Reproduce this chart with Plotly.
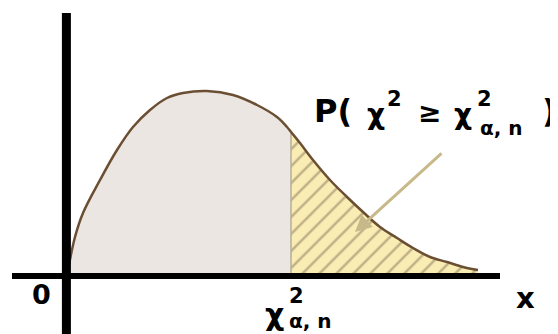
import plotly.graph_objects as go

# density curve (x in chi-square units, y = density)
curve_x = [0.0, 0.1, 0.45, 0.85, 1.7, 2.55, 3.35, 4.2, 5.05, 5.85, 7.05, 8.35, 9.55, 10.55, 11.05, 11.25,
           11.7, 12.35, 13.2, 14.05, 14.85, 15.7, 16.55, 17.35, 18.2, 19.05, 19.85, 20.6]
curve_y = [0.0, 0.004, 0.037, 0.061, 0.094, 0.124, 0.147, 0.164, 0.176, 0.181, 0.183, 0.179, 0.169, 0.157, 0.147, 0.142,
           0.131, 0.114, 0.094, 0.077, 0.062, 0.047, 0.036, 0.026, 0.017, 0.012, 0.007, 0.004]
critical = 11.25

left_x = [x for x in curve_x if x <= critical]
left_y = curve_y[:len(left_x)]
right_x = curve_x[len(left_x) - 1:]
right_y = curve_y[len(left_x) - 1:]

fig = go.Figure()

# left area, plain light fill
fig.add_trace(go.Scatter(x=left_x, y=left_y, mode='lines', line=dict(width=0),
                         fill='tozeroy', fillcolor='#ECE6E3', hoverinfo='skip'))
# right tail, hatched
fig.add_trace(go.Scatter(x=right_x, y=right_y, mode='lines', line=dict(width=0),
                         fill='tozeroy', fillcolor='#FAEDB4',
                         fillpattern=dict(shape='/', bgcolor='#FAEDB4', fgcolor='#7F7056',
                                          size=12, solidity=0.2),
                         hoverinfo='skip'))
# divider at the critical value
fig.add_trace(go.Scatter(x=[critical, critical], y=[0, right_y[0]], mode='lines',
                         line=dict(color='#B8AC98', width=1.5), hoverinfo='skip'))
# the curve itself
fig.add_trace(go.Scatter(x=curve_x[1:], y=curve_y[1:], mode='lines',
                         line=dict(color='#6B4F33', width=2.5, shape='spline'), hoverinfo='skip'))

# axes drawn by hand
fig.add_trace(go.Scatter(x=[-2.7, 21.7], y=[-0.002, -0.002], mode='lines',
                         line=dict(color='black', width=6), hoverinfo='skip'))
fig.add_trace(go.Scatter(x=[0.02, 0.02], y=[0.261, -0.07], mode='lines',
                         line=dict(color='black', width=9), hoverinfo='skip'))

font = 'DejaVu Sans'
sub = 'α,\u00a0n'


def label(x, y, text, size, anchor='center'):
    fig.add_annotation(x=x, y=y, text='<b>' + text + '</b>', showarrow=False, xanchor=anchor,
                       font=dict(family=font, size=size, color='black'))


label(-1.25, -0.020, '0', 27)
label(22.95, -0.024, 'x', 29)
# chi-square critical label under the axis
label(10.4, -0.040, 'χ', 30)
label(11.5, -0.022, '2', 21)
label(11.05, -0.047, sub, 20, 'left')

# probability label, built piece by piece
label(12.3, 0.163, 'P(', 32, 'left')
label(15.5, 0.160, 'χ', 28)
label(16.4, 0.175, '2', 21)
label(18.15, 0.162, '≥', 28)
label(19.85, 0.160, 'χ', 28)
label(20.9, 0.175, '2', 21)
label(20.6, 0.146, sub, 20, 'left')
label(24.15, 0.163, ')', 32)

# arrow into the tail
fig.add_annotation(x=14.45, y=0.042, ax=18.85, ay=0.122, axref='x', ayref='y',
                   text='', showarrow=True, arrowhead=2, arrowsize=1.1, arrowwidth=3,
                   arrowcolor='#C8B98A')

# ranges shifted by the 8px page margin so the picture lands where the reference has it
fig.update_layout(width=558, height=334, margin=dict(l=0, r=0, t=0, b=0),
                  plot_bgcolor='white', paper_bgcolor='white', showlegend=False)
fig.update_xaxes(range=[-2.9, 25.0], visible=False)
fig.update_yaxes(range=[-0.068, 0.266], visible=False)

fig.write_html('out.html')
